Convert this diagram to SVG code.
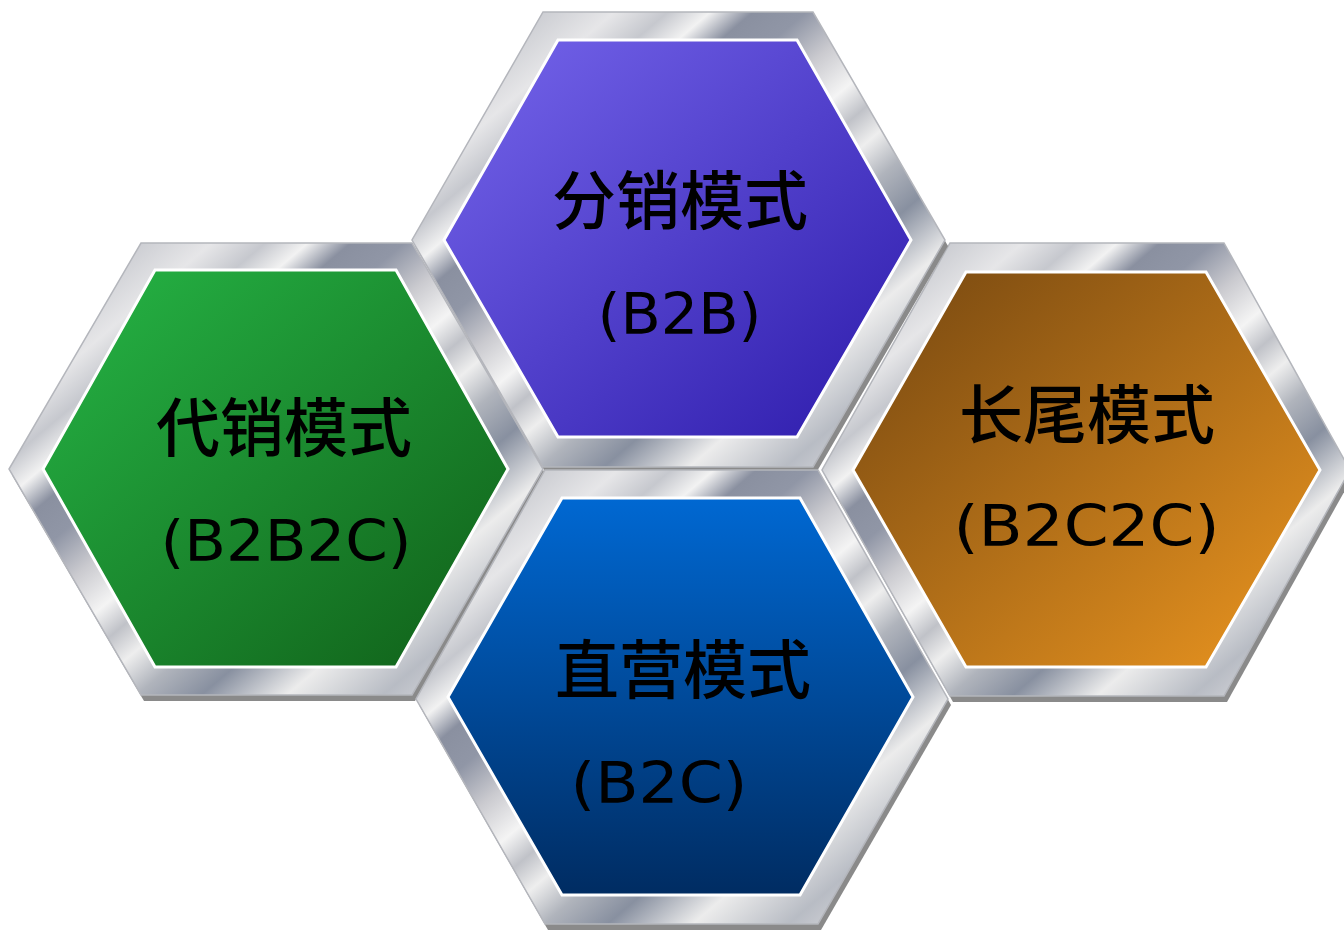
<svg xmlns="http://www.w3.org/2000/svg" width="1344" height="930" viewBox="0 0 1344 930">
  <defs>
    <linearGradient id="metal" x1="0" y1="0" x2="1" y2="1">
      <stop offset="0" stop-color="#b4b8c0"/>
      <stop offset="0.1" stop-color="#c4c6cc"/>
      <stop offset="0.19" stop-color="#e6e6e8"/>
      <stop offset="0.24" stop-color="#c6c8ce"/>
      <stop offset="0.28" stop-color="#f2f2f2"/>
      <stop offset="0.32" stop-color="#8a90a0"/>
      <stop offset="0.37" stop-color="#9096a6"/>
      <stop offset="0.43" stop-color="#cacacf"/>
      <stop offset="0.49" stop-color="#f4f4f4"/>
      <stop offset="0.53" stop-color="#c0c2c8"/>
      <stop offset="0.57" stop-color="#eeeeee"/>
      <stop offset="0.62" stop-color="#b0b4bc"/>
      <stop offset="0.68" stop-color="#8890a0"/>
      <stop offset="0.76" stop-color="#ececec"/>
      <stop offset="0.85" stop-color="#b8bcc4"/>
      <stop offset="0.92" stop-color="#d8d8dc"/>
      <stop offset="1" stop-color="#9ca0aa"/>
    </linearGradient>
    <linearGradient id="gPurple" x1="0" y1="0" x2="1" y2="1">
      <stop offset="0" stop-color="#7666ec"/>
      <stop offset="1" stop-color="#2c1aaa"/>
    </linearGradient>
    <linearGradient id="gGreen" x1="0" y1="0" x2="1" y2="1">
      <stop offset="0" stop-color="#26b646"/>
      <stop offset="1" stop-color="#105e18"/>
    </linearGradient>
    <linearGradient id="gOrange" x1="0" y1="0" x2="1" y2="1">
      <stop offset="0" stop-color="#744610"/>
      <stop offset="1" stop-color="#ec9620"/>
    </linearGradient>
    <linearGradient id="gBlue" x1="0" y1="0" x2="0" y2="1">
      <stop offset="0" stop-color="#0068d2"/>
      <stop offset="1" stop-color="#002c62"/>
    </linearGradient>
    <style>
      .shadow { fill: #8a8a8a; }
      .frame { fill: url(#metal); stroke: #b4b6bc; stroke-width: 1.5; }
      .inner { stroke: #ffffff; stroke-width: 3; stroke-linejoin: miter; }
      .cn { font-family: "Noto Sans CJK SC", "Noto Sans CJK TC", sans-serif; font-size: 64px; font-weight: 500; fill: #000; text-anchor: middle; }
      .lat { font-family: "DejaVu Sans", "Liberation Sans", sans-serif; font-size: 57px; fill: #000; }
    </style>
  </defs>

  <g id="node-b2b2c">
    <polygon class="shadow" points="144,249 415,249 546,475 415,701 144,701 12,475"/>
    <polygon class="frame" points="141,243 412,243 543,469 412,695 141,695 9,469"/>
    <polygon class="inner" fill="url(#gGreen)" points="155,270 396,270 508,469 396,667 155,667 43,469"/>
    <text class="cn" x="284" y="451">代销模式</text>
    <text class="lat" x="160.5" y="561" textLength="251" lengthAdjust="spacingAndGlyphs">(B2B2C)</text>
  </g>

  <g id="node-b2c2c">
    <polygon class="shadow" points="953,249 1227,249 1353,476 1227,702 953,702 825,476"/>
    <polygon class="frame" points="950,243 1224,243 1350,470 1224,696 950,696 822,470"/>
    <polygon class="inner" fill="url(#gOrange)" points="966,272 1206,272 1320,470 1206,667 966,667 853,470"/>
    <text class="cn" x="1087" y="438">长尾模式</text>
    <text class="lat" x="953.5" y="546" textLength="266" lengthAdjust="spacingAndGlyphs">(B2C2C)</text>
  </g>

  <g id="node-b2b">
    <polygon class="shadow" points="546,18 816,18 948,246 816,473 546,473 415,246"/>
    <polygon class="frame" points="543,12 813,12 945,240 813,467 543,467 412,240"/>
    <polygon class="inner" fill="url(#gPurple)" points="558,40 797,40 911,240 797,437 558,437 444,240"/>
    <text class="cn" x="680" y="224">分销模式</text>
    <text class="lat" x="597.5" y="334" textLength="164" lengthAdjust="spacingAndGlyphs">(B2B)</text>
  </g>

  <g id="node-b2c">
    <polygon class="shadow" points="548,476 821,476 951,705 821,930 548,930 419,705"/>
    <polygon class="frame" points="545,470 818,470 948,699 818,924 545,924 416,699"/>
    <polygon class="inner" fill="url(#gBlue)" points="562,498 800,498 913,697 800,895 562,895 448,697"/>
    <text class="cn" x="683" y="693">直营模式</text>
    <text class="lat" x="570.5" y="803" textLength="177" lengthAdjust="spacingAndGlyphs">(B2C)</text>
  </g>

  <g id="connectors"></g>
</svg>
